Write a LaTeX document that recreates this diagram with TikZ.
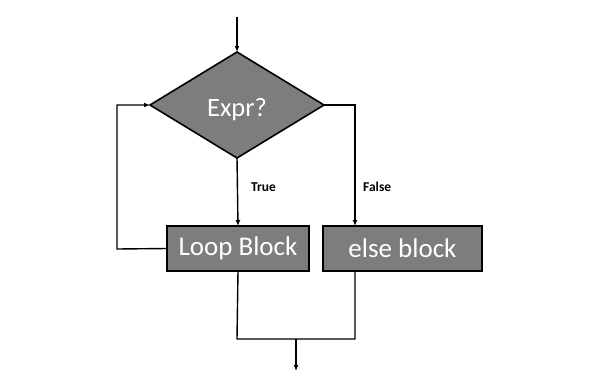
\documentclass[tikz,border=0pt]{standalone}
\usepackage{fontspec}
\setmainfont{Carlito}
\usetikzlibrary{shapes.geometric,arrows.meta}
\definecolor{boxgray}{RGB}{125,125,125}
\tikzset{
  conn/.style={line width=1.4pt, draw=black},
  arr/.style={conn, -{Latex[length=6pt,width=5pt]}},
  block/.style={rectangle, draw=black, line width=2.4pt, fill=boxgray, text=white,
    minimum height=45pt, inner sep=0pt, outer sep=0pt,
    font=\fontsize{27}{29}\selectfont},
  decision/.style={diamond, draw=black, line width=1.6pt, fill=boxgray, text=white,
    minimum width=174pt, minimum height=106pt, inner sep=0pt, outer sep=0pt,
    font=\fontsize{26.5}{28}\selectfont},
  lbl/.style={font=\bfseries\fontsize{13.5}{15}\selectfont, anchor=west, inner sep=0pt}
}
\begin{document}
\begin{tikzpicture}[x=1pt,y=-1pt]
\useasboundingbox (0,0) rectangle (600,380);
\node[decision] (d) at (237,105) {};
\node[text=white, font=\fontsize{26.5}{28}\selectfont, inner sep=0pt] (dt) at (237,110) {Expr?};
\node[block, minimum width=142pt] (loop) at (238,248.5) {Loop Block};
\node[block, minimum width=159pt] (else) at (402.5,248.5) {else block};
\coordinate (start) at (237,17);
\coordinate (fx) at (355,105);
\coordinate (lx) at (117,249);
\coordinate (jl) at (237,339);
\coordinate (jr) at (355,339);
\coordinate (jm) at (296,339);
\coordinate (endp) at (296,371);
\draw[arr] (start) -- (d.north);
\draw[arr] (d.south) -- (loop.north);
\draw[arr] (d.east) -- (fx) -- (fx |- else.north);
\draw[arr] (loop.west) -- (lx) |- (d.west);
\draw[conn] (loop.south) -- (jl) -- (jr) -- (jr |- else.south);
\draw[arr] (jm) -- (endp);
\node[lbl] (t) at (251,187) {True};
\node[lbl] (f) at (363,187) {False};
\end{tikzpicture}
\end{document}
